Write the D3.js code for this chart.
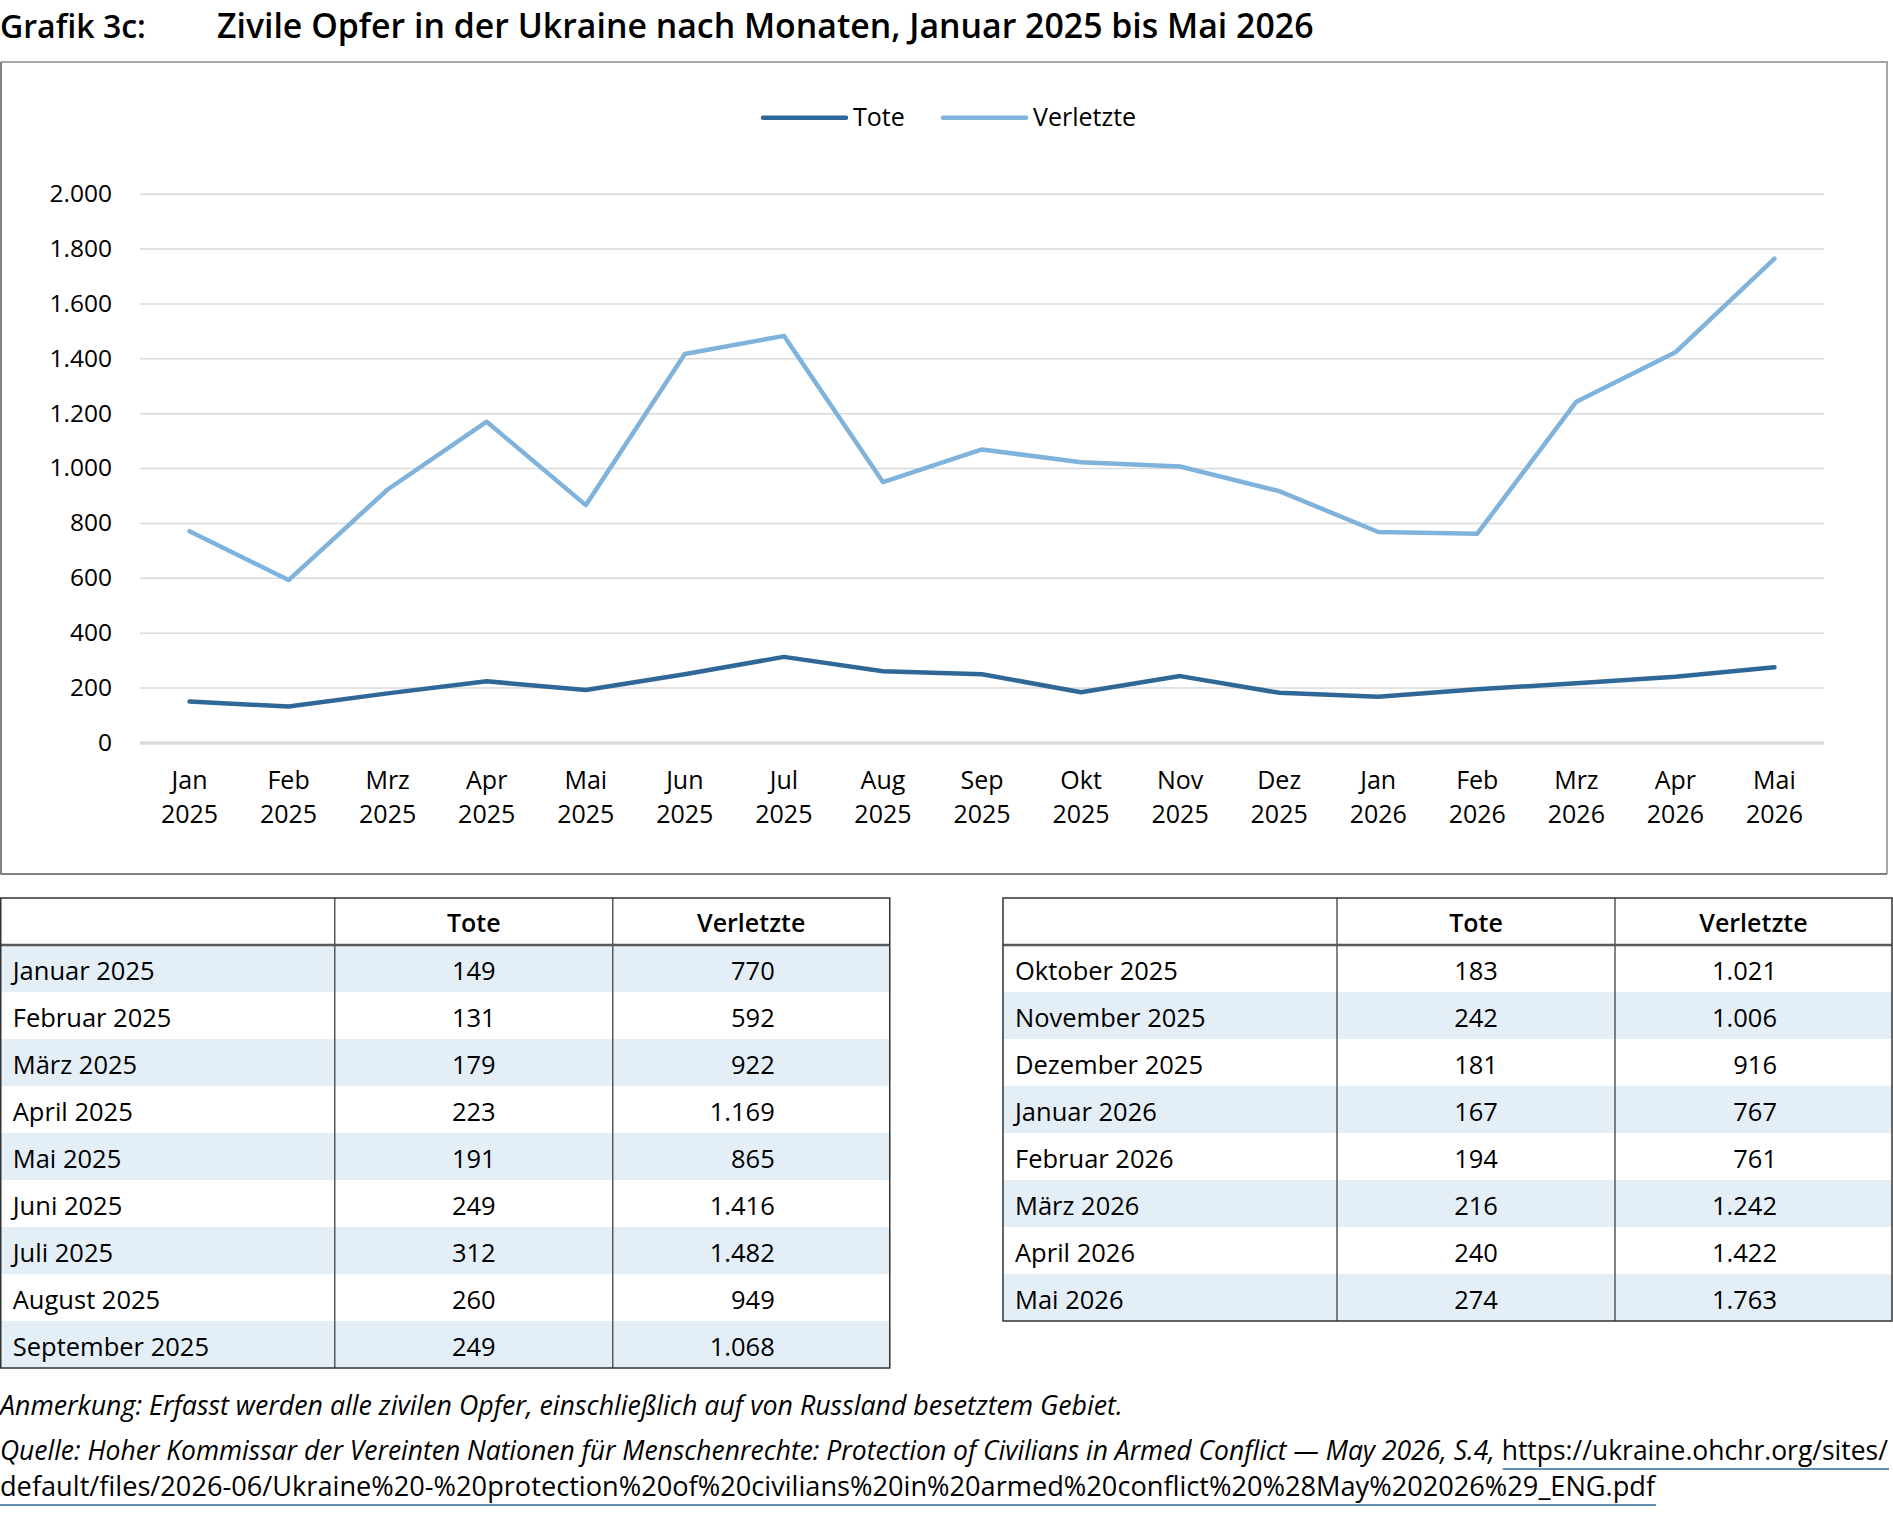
<!DOCTYPE html>
<html>
<head>
<meta charset="utf-8">
<script src="https://cdn.jsdelivr.net/npm/d3@7"></script>
<style>
  body { margin: 0; background: #fff; }
  svg { display: block; }
</style>
</head>
<body>
<svg id="chart" width="1893" height="1514"></svg>
<script>
var monthShort = ["Jan", "Feb", "Mrz", "Apr", "Mai", "Jun", "Jul", "Aug", "Sep", "Okt", "Nov", "Dez", "Jan", "Feb", "Mrz", "Apr", "Mai"];
var years = ["2025", "2025", "2025", "2025", "2025", "2025", "2025", "2025", "2025", "2025", "2025", "2025", "2026", "2026", "2026", "2026", "2026"];
var monthLong = ["Januar 2025", "Februar 2025", "März 2025", "April 2025", "Mai 2025", "Juni 2025", "Juli 2025", "August 2025", "September 2025",
                 "Oktober 2025", "November 2025", "Dezember 2025", "Januar 2026", "Februar 2026", "März 2026", "April 2026", "Mai 2026"];
var tote = [149, 131, 179, 223, 191, 249, 312, 260, 249, 183, 242, 181, 167, 194, 216, 240, 274];
var verletzte = [770, 592, 922, 1169, 865, 1416, 1482, 949, 1068, 1021, 1006, 916, 767, 761, 1242, 1422, 1763];
var yTicks = [0, 200, 400, 600, 800, 1000, 1200, 1400, 1600, 1800, 2000];
var seriesNames = ["Tote", "Verletzte"];
var seriesColors = ["#2f6896", "#80b3db"];

var FONT = "'Open Sans', 'Noto Sans', sans-serif";

// German number format: 1.169
var de = d3.formatLocale({decimal: ",", thousands: ".", grouping: [3], currency: ["", " €"]});
var fmt = de.format(",d");

var svg = d3.select("#chart");

// scale font-size so a text ends up at the given width
function fitWidth(sel, target) {
  var size = parseFloat(sel.attr("font-size"));
  var len = sel.node().getComputedTextLength();
  sel.attr("font-size", size * target / len);
}

// ---- Title ----
var t1 = svg.append("text")
    .attr("x", 0).attr("y", 38)
    .attr("font-family", FONT).attr("font-weight", 600).attr("font-size", 26)
    .text("Grafik 3c:");
fitWidth(t1, 146);
var t2 = svg.append("text")
    .attr("x", 217).attr("y", 38)
    .attr("font-family", FONT).attr("font-weight", 600).attr("font-size", 26)
    .text("Zivile Opfer in der Ukraine nach Monaten, Januar 2025 bis Mai 2026");
fitWidth(t2, 1097);

// ---- Chart frame ----
var frame = {left: 1, top: 62, right: 1887, bottom: 874};
svg.append("path")
    .attr("d", "M" + frame.left + "," + frame.top + "H" + frame.right + "V" + frame.bottom)
    .attr("fill", "none").attr("stroke", "#a6a6a6").attr("stroke-width", 2);
svg.append("path")
    .attr("d", "M" + frame.left + "," + frame.top + "V" + frame.bottom + "H" + frame.right)
    .attr("fill", "none").attr("stroke", "#595959").attr("stroke-width", 1.5);

// ---- Scales ----
var plot = {left: 140, right: 1824, top: 193.7, bottom: 742.5};
var x = d3.scaleBand().domain(d3.range(tote.length)).range([plot.left, plot.right]);
var y = d3.scaleLinear().domain([0, 2000]).range([plot.bottom, plot.top]);
var cx = function(i) { return x(i) + x.bandwidth() / 2; };

// Y axis with gridlines
var yAxis = svg.append("g")
    .attr("transform", "translate(" + plot.left + ",0)")
    .call(d3.axisLeft(y).tickValues(yTicks).tickFormat(fmt)
          .tickSize(-(plot.right - plot.left)).tickPadding(28));
yAxis.attr("font-family", FONT).attr("font-size", 24.5);
yAxis.select(".domain").remove();
yAxis.selectAll(".tick line")
    .attr("stroke", "#d9d9d9")
    .attr("stroke-width", function(d) { return d === 0 ? 3.5 : 1.5; });
yAxis.selectAll(".tick text").attr("fill", "#000");

// X labels (two lines)
var xLab = svg.append("g").attr("font-family", FONT).attr("font-size", 25).attr("text-anchor", "middle");
xLab.selectAll("text")
    .data(monthShort)
    .enter().append("text")
    .each(function(d, i) {
      var t = d3.select(this);
      t.append("tspan").attr("x", cx(i)).attr("y", 789).text(d);
      t.append("tspan").attr("x", cx(i)).attr("y", 823).text(years[i]);
    });

// Lines
var line = d3.line()
    .x(function(d, i) { return cx(i); })
    .y(function(d) { return y(d); });

svg.selectAll(".series")
    .data([verletzte, tote])
    .enter().append("path")
    .attr("class", "series")
    .attr("d", line)
    .attr("fill", "none")
    .attr("stroke", function(d, i) { return i === 0 ? seriesColors[1] : seriesColors[0]; })
    .attr("stroke-width", 4.5)
    .attr("stroke-linejoin", "round")
    .attr("stroke-linecap", "round");

// Legend
var legendX = [763, 943];
var legend = svg.append("g").attr("font-family", FONT).attr("font-size", 25);
seriesNames.forEach(function(name, i) {
  legend.append("line")
      .attr("x1", legendX[i]).attr("x2", legendX[i] + 83)
      .attr("y1", 117.7).attr("y2", 117.7)
      .attr("stroke", seriesColors[i]).attr("stroke-width", 4.5)
      .attr("stroke-linecap", "round");
  legend.append("text")
      .attr("x", legendX[i] + 90).attr("y", 126)
      .text(name);
});

// ---- Tables ----
var rowH = 47;
var colW = [334, 278, 277];

function drawTable(x0, y0, idx) {
  var g = svg.append("g").attr("font-family", FONT);
  var w = d3.sum(colW);
  var h = rowH * (idx.length + 1);

  // shaded rows
  g.selectAll(".shade")
      .data(idx)
      .enter().append("rect")
      .attr("x", x0).attr("y", function(d, j) { return y0 + rowH * (j + 1); })
      .attr("width", w).attr("height", rowH)
      .attr("fill", function(d) { return d % 2 === 0 ? "#e3eef7" : "#fff"; });

  // header
  g.append("text").attr("x", x0 + colW[0] + colW[1] / 2).attr("y", y0 + 34)
      .attr("text-anchor", "middle").attr("font-weight", 600).attr("font-size", 25).text(seriesNames[0]);
  g.append("text").attr("x", x0 + colW[0] + colW[1] + colW[2] / 2).attr("y", y0 + 34)
      .attr("text-anchor", "middle").attr("font-weight", 600).attr("font-size", 25).text(seriesNames[1]);

  // rows
  var rows = g.selectAll(".row")
      .data(idx)
      .enter().append("g")
      .attr("font-size", 25.5)
      .attr("transform", function(d, j) { return "translate(0," + (y0 + rowH * (j + 1) + 35) + ")"; });
  rows.append("text").attr("x", x0 + 12).text(function(d) { return monthLong[d]; });
  rows.append("text").attr("x", x0 + colW[0] + colW[1] / 2).attr("text-anchor", "middle")
      .text(function(d) { return fmt(tote[d]); });
  rows.append("text").attr("x", x0 + colW[0] + colW[1] + 162).attr("text-anchor", "end")
      .text(function(d) { return fmt(verletzte[d]); });

  // lines
  g.append("line").attr("x1", x0).attr("x2", x0 + w).attr("y1", y0 + rowH).attr("y2", y0 + rowH)
      .attr("stroke", "#595959").attr("stroke-width", 2.5);
  [colW[0], colW[0] + colW[1]].forEach(function(cxv) {
    g.append("line").attr("x1", x0 + cxv).attr("x2", x0 + cxv).attr("y1", y0).attr("y2", y0 + h)
        .attr("stroke", "#595959").attr("stroke-width", 1.5);
  });
  g.append("rect").attr("x", x0).attr("y", y0).attr("width", w).attr("height", h)
      .attr("fill", "none").attr("stroke", "#333").attr("stroke-width", 1.5);
}

drawTable(0.75, 898, d3.range(0, 9));
drawTable(1003, 898, d3.range(9, 17));

// ---- Footnotes ----
var note = svg.append("text")
    .attr("x", 0).attr("y", 1415)
    .attr("font-family", FONT).attr("font-style", "italic").attr("font-size", 24)
    .text("Anmerkung: Erfasst werden alle zivilen Opfer, einschließlich auf von Russland besetztem Gebiet.");
fitWidth(note, 1123);

var src1 = svg.append("text")
    .attr("x", 0).attr("y", 1460)
    .attr("font-family", FONT).attr("font-size", 24);
src1.append("tspan").attr("font-style", "italic")
    .text("Quelle: Hoher Kommissar der Vereinten Nationen für Menschenrechte: Protection of Civilians in Armed Conflict — May 2026, S.4, ");
var url1 = src1.append("tspan").text("https://ukraine.ohchr.org/sites/");
fitWidth(src1, 1889);

var src2 = svg.append("text")
    .attr("x", 0).attr("y", 1496)
    .attr("font-family", FONT).attr("font-size", 24)
    .text("default/files/2026-06/Ukraine%20-%20protection%20of%20civilians%20in%20armed%20conflict%20%28May%202026%29_ENG.pdf");
fitWidth(src2, 1656);

var urlW = url1.node().getComputedTextLength();
svg.append("line").attr("x1", 1889 - urlW).attr("x2", 1889).attr("y1", 1469).attr("y2", 1469)
    .attr("stroke", "#2f6896").attr("stroke-width", 1.5);
svg.append("line").attr("x1", 0).attr("x2", 1656).attr("y1", 1505).attr("y2", 1505)
    .attr("stroke", "#2f6896").attr("stroke-width", 1.5);
</script>
</body>
</html>
